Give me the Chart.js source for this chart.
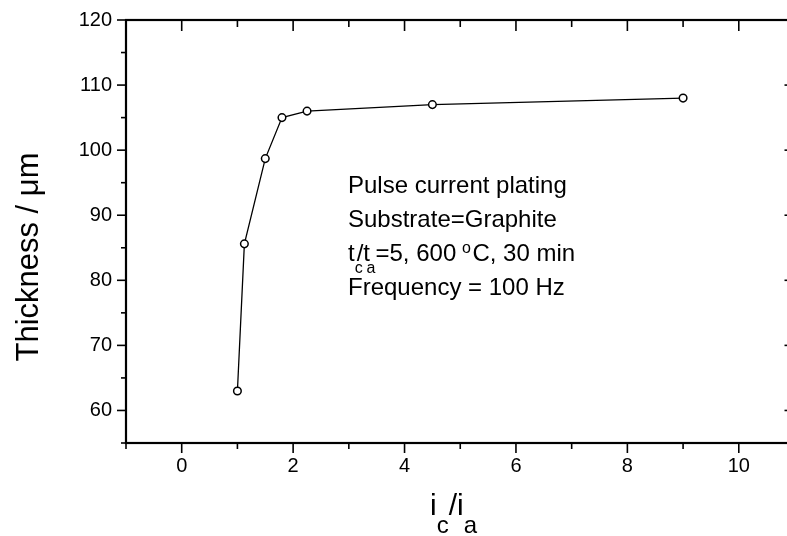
<!DOCTYPE html>
<html>
<head>
<meta charset="utf-8">
<script src="https://cdn.jsdelivr.net/npm/chart.js@4.4.0/dist/chart.umd.min.js"></script>
<style>
  html, body { margin: 0; padding: 0; background: #fff; overflow: hidden; }
  #wrap { width: 787px; height: 536px; overflow: hidden; }
</style>
</head>
<body>
<div id="wrap"><canvas id="thickChart" width="800" height="536"></canvas></div>
<script>
// ic/ia ratio against deposit thickness
const currentRatio = [1, 1.125, 1.5, 1.8, 2.25, 4.5, 9];
const thickness = [63, 85.6, 98.7, 105, 106, 107, 108];

const xMajorTicks = [0, 2, 4, 6, 8, 10];
const xMinorTicks = [-1, 1, 3, 5, 7, 9, 11];
const yMajorTicks = [60, 70, 80, 90, 100, 110, 120];
const yMinorTicks = [55, 65, 75, 85, 95, 105, 115];

const FONT = "'Liberation Sans', Arial, Helvetica, sans-serif";

// draw a row of text pieces, each with its own size and vertical shift
function drawRuns(ctx, x, y, runs) {
  runs.forEach(r => {
    ctx.font = r.size + 'px ' + FONT;
    ctx.fillText(r.t, x + (r.dx || 0), y + (r.dy || 0));
    x += r.adv !== undefined ? r.adv : ctx.measureText(r.t).width;
  });
}

// boxed frame: ticks out on left/bottom, in on top/right
const axisFrame = {
  id: 'axisFrame',
  afterDatasetsDraw(chart) {
    const { ctx, chartArea: a, scales: { x, y } } = chart;
    const seg = (x1, y1, x2, y2) => {
      ctx.beginPath(); ctx.moveTo(x1, y1); ctx.lineTo(x2, y2); ctx.stroke();
    };
    ctx.save();
    ctx.strokeStyle = '#000';
    ctx.lineWidth = 1.6;
    xMajorTicks.forEach(v => {
      const px = x.getPixelForValue(v);
      seg(px, a.bottom, px, a.bottom + 10);
      seg(px, a.top, px, a.top + 11);
    });
    xMinorTicks.forEach(v => {
      const px = x.getPixelForValue(v);
      seg(px, a.bottom, px, a.bottom + 6);
      seg(px, a.top, px, a.top + 7);
    });
    yMajorTicks.forEach(v => {
      const py = y.getPixelForValue(v);
      seg(a.left - 9, py, a.left, py);
      seg(a.right - 10, py, a.right, py);
    });
    yMinorTicks.forEach(v => {
      const py = y.getPixelForValue(v);
      seg(a.left - 5, py, a.left, py);
      seg(a.right - 6, py, a.right, py);
    });
    ctx.lineWidth = 2.2;
    ctx.strokeRect(a.left, a.top, a.right - a.left, a.bottom - a.top);
    ctx.restore();
  }
};

const captions = {
  id: 'captions',
  afterDraw(chart) {
    const ctx = chart.ctx;
    ctx.save();
    ctx.fillStyle = '#000';
    ctx.textBaseline = 'alphabetic';

    // y axis title
    ctx.save();
    ctx.translate(38, 257);
    ctx.rotate(-Math.PI / 2);
    ctx.textAlign = 'center';
    ctx.font = '31px ' + FONT;
    ctx.fillText('Thickness / \u03bcm', 0, 0);
    ctx.restore();

    ctx.textAlign = 'left';
    // x axis title: i_c / i_a
    drawRuns(ctx, 430, 515, [
      { t: 'i', size: 30 },
      { t: 'c', size: 24, dy: 18 },
      { t: '/i', size: 30 },
      { t: 'a', size: 24, dy: 18 }
    ]);

    // conditions block
    const x0 = 348, b0 = 193, lh = 34;
    ctx.font = '24px ' + FONT;
    ctx.fillText('Pulse current plating', x0, b0);
    ctx.fillText('Substrate=Graphite', x0, b0 + lh);
    drawRuns(ctx, x0, b0 + 2 * lh, [
      { t: 't', size: 24 },
      { t: 'c', size: 16, dy: 12, adv: 2 },
      { t: '/t', size: 24 },
      { t: 'a', size: 16, dy: 12, dx: -3.5, adv: 5.5 },
      { t: '=5, 600 ', size: 24 },
      { t: 'o', size: 16, dy: -8, dx: -1, adv: 9.5 },
      { t: 'C, 30 min', size: 24 }
    ]);
    ctx.font = '24px ' + FONT;
    ctx.fillText('Frequency = 100 Hz', x0, b0 + 3 * lh);
    ctx.restore();
  }
};

new Chart(document.getElementById('thickChart'), {
  type: 'scatter',
  data: {
    datasets: [{
      data: currentRatio.map((r, i) => ({ x: r, y: thickness[i] })),
      showLine: true,
      tension: 0,
      borderColor: '#000',
      borderWidth: 1.3,
      pointRadius: 3.8,
      pointBackgroundColor: '#fff',
      pointBorderColor: '#000',
      pointBorderWidth: 1.5
    }]
  },
  options: {
    responsive: false,
    animation: false,
    devicePixelRatio: 1,
    layout: { padding: { top: 20, right: 3, left: 0, bottom: 0 } },
    plugins: { legend: { display: false }, tooltip: { enabled: false } },
    scales: {
      x: {
        type: 'linear',
        min: -1,
        max: 11,
        grid: { display: false, drawTicks: false },
        border: { display: false },
        afterBuildTicks: s => { s.ticks = xMajorTicks.map(v => ({ value: v })); },
        afterFit: s => { s.height = 93; s.paddingLeft = 0; s.paddingRight = 0; },
        ticks: {
          font: { family: FONT, size: 20 },
          color: '#000',
          padding: 11,
          maxRotation: 0,
          autoSkip: false
        }
      },
      y: {
        type: 'linear',
        min: 55,
        max: 120,
        grid: { display: false, drawTicks: false },
        border: { display: false },
        afterBuildTicks: s => { s.ticks = yMajorTicks.map(v => ({ value: v })); },
        afterFit: s => { s.width = 126; s.paddingTop = 0; s.paddingBottom = 0; },
        ticks: {
          font: { family: FONT, size: 20 },
          color: '#000',
          padding: 14,
          autoSkip: false
        }
      }
    }
  },
  plugins: [axisFrame, captions]
});
</script>
</body>
</html>
